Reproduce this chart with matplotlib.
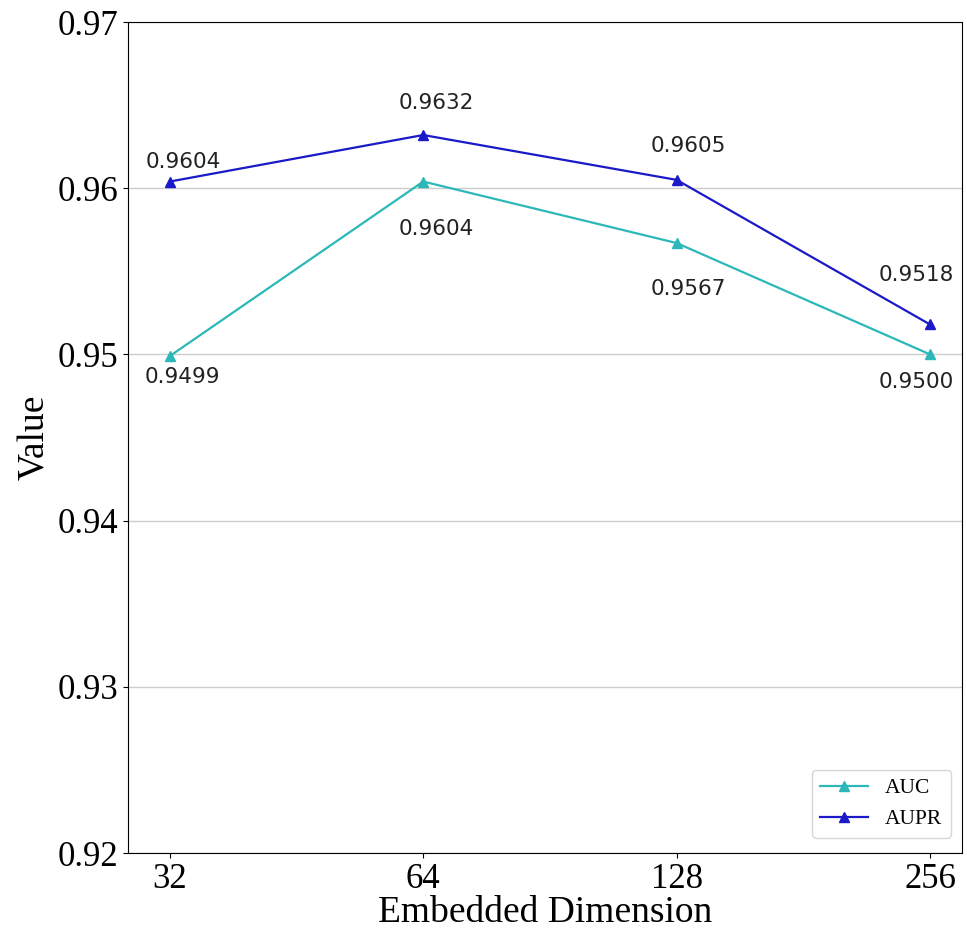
import matplotlib
matplotlib.use("Agg")
import matplotlib.pyplot as plt

dims = ["32", "64", "128", "256"]
auc = [0.9499, 0.9604, 0.9567, 0.9500]
aupr = [0.9604, 0.9632, 0.9605, 0.9518]

# label offsets in pixels (dx, dy), dy positive = up
auc_off = [(13, -21), (13, -47), (12, -46), (-14, -28)]
aupr_off = [(13, 20), (13, 32), (12, 34), (-14, 49)]

fig = plt.figure(figsize=(9.67, 9.32), dpi=100)
ax = fig.add_axes([128/967, 1-853/932, (962-128)/967, (853-22)/932])
x = list(range(len(dims)))
ax.plot(x, auc, color="#2cb8b8", marker="^", markersize=6.5, lw=1.6, label="AUC")
ax.plot(x, aupr, color="#1a1ac8", marker="^", markersize=6.5, lw=1.6, label="AUPR")

for xi, v, (dx, dy) in zip(x, auc, auc_off):
    ax.annotate(f"{v:.4f}", (xi, v), xytext=(dx, dy), textcoords="offset pixels",
                ha="center", va="center", fontsize=15.5, family="DejaVu Sans", color="#222222")
for xi, v, (dx, dy) in zip(x, aupr, aupr_off):
    ax.annotate(f"{v:.4f}", (xi, v), xytext=(dx, dy), textcoords="offset pixels",
                ha="center", va="center", fontsize=15.5, family="DejaVu Sans", color="#222222")

ax.set_ylim(0.92, 0.97)
ax.set_xlim(-0.165, 3.126)
ax.set_xticks(x)
ax.set_xticklabels(dims)
ax.set_yticks([0.92, 0.93, 0.94, 0.95, 0.96, 0.97])
ax.set_yticklabels(["0.92", "0.93", "0.94", "0.95", "0.96", "0.97"])
ax.yaxis.grid(True, color="#cccccc", lw=1)
ax.set_axisbelow(True)
for lab in ax.get_xticklabels() + ax.get_yticklabels():
    lab.set_family("Liberation Serif")
    lab.set_fontsize(25)
ax.set_xlabel("Embedded Dimension", family="Liberation Serif", fontsize=27, labelpad=0)
ax.set_ylabel("Value", family="Liberation Serif", fontsize=27, labelpad=4)
ax.legend(loc="lower right", prop={"family": "Liberation Serif", "size": 15.5},
          handlelength=2.2, borderaxespad=0.4, bbox_to_anchor=(0.997, 0.008))
fig.savefig("out.png", dpi=100)
